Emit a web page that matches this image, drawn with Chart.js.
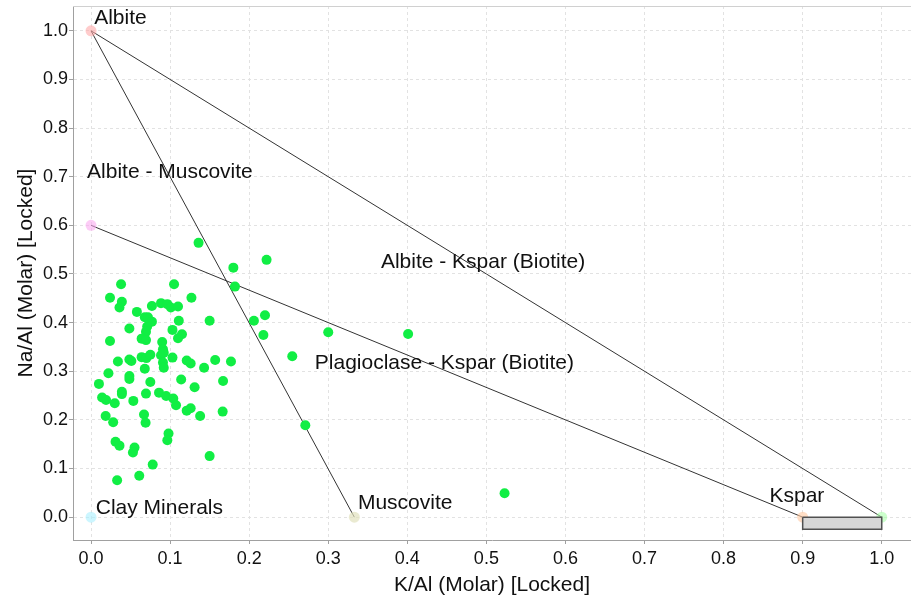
<!DOCTYPE html>
<html>
<head>
<meta charset="utf-8">
<script src="https://cdn.jsdelivr.net/npm/chart.js@4/dist/chart.umd.min.js"></script>
<style>
  html, body { margin: 0; padding: 0; background: #fff; overflow: hidden; }
  #wrap { width: 911px; height: 598px; position: relative; }
  canvas { display: block; }
</style>
</head>
<body>
<div id="wrap"><canvas id="chart"></canvas></div>
<script>
// sample analyses (K/Al, Na/Al)
const sampleX = [0.136, 0.180, 0.182, 0.206, 0.038, 0.105, 0.024, 0.127, 0.039, 0.036,
  0.058, 0.077, 0.0885, 0.0965, 0.101, 0.110, 0.068, 0.072, 0.077, 0.111,
  0.150, 0.0485, 0.071, 0.103, 0.115, 0.0695, 0.064, 0.0695, 0.110, 0.024,
  0.090, 0.091, 0.0885, 0.092, 0.064, 0.070, 0.075, 0.103, 0.034, 0.0485,
  0.051, 0.091, 0.092, 0.121, 0.126, 0.143, 0.157, 0.177, 0.068, 0.022,
  0.010, 0.0485, 0.0485, 0.075, 0.114, 0.167, 0.131, 0.039, 0.039, 0.0695,
  0.086, 0.095, 0.104, 0.1075, 0.014, 0.019, 0.030, 0.0535, 0.121, 0.126,
  0.138, 0.1665, 0.0185, 0.067, 0.069, 0.028, 0.098, 0.0965, 0.031, 0.036,
  0.055, 0.053, 0.150, 0.078, 0.061, 0.033, 0.222, 0.220, 0.218, 0.300,
  0.401, 0.2545, 0.271, 0.523];
const sampleY = [0.564, 0.513, 0.474, 0.404, 0.479, 0.479, 0.451, 0.451, 0.443, 0.431,
  0.422, 0.434, 0.440, 0.438, 0.431, 0.433, 0.411, 0.411, 0.402, 0.404,
  0.404, 0.388, 0.392, 0.385, 0.376, 0.381, 0.367, 0.364, 0.368, 0.362,
  0.360, 0.345, 0.333, 0.338, 0.329, 0.327, 0.334, 0.328, 0.320, 0.324,
  0.321, 0.318, 0.307, 0.322, 0.316, 0.307, 0.323, 0.320, 0.305, 0.296,
  0.274, 0.290, 0.284, 0.278, 0.283, 0.280, 0.267, 0.258, 0.253, 0.254,
  0.256, 0.249, 0.244, 0.230, 0.246, 0.241, 0.234, 0.239, 0.219, 0.224,
  0.208, 0.217, 0.208, 0.211, 0.194, 0.195, 0.172, 0.158, 0.155, 0.147,
  0.143, 0.133, 0.1255, 0.108, 0.085, 0.076, 0.529, 0.415, 0.3745, 0.380,
  0.3765, 0.331, 0.189, 0.049];

// end members
const memberNames = ['Albite', 'Albite - Muscovite', 'Clay Minerals', 'Muscovite', 'Kspar', 'Kspar end'];
const memberX = [0, 0, 0, 0.333, 0.9, 1.0];
const memberY = [1.0, 0.6, 0, 0, 0, 0];
const memberColors = ['rgba(255,170,170,0.6)', 'rgba(250,170,240,0.6)', 'rgba(170,240,255,0.6)',
  'rgba(225,225,190,0.7)', 'rgba(255,200,160,0.6)', 'rgba(170,255,170,0.6)'];

// mixing lines [from, to] as member indices
const mixLines = [[0, 3], [0, 5], [1, 4]];

// box under Kspar
const boxX = [0.9, 1.0, 1.0, 0.9, 0.9];
const boxY = [0, 0, -0.025, -0.025, 0];

// text annotations
const noteTexts = ['Albite', 'Albite - Muscovite', 'Albite - Kspar (Biotite)', 'Plagioclase - Kspar (Biotite)',
  'Clay Minerals', 'Muscovite', 'Kspar'];
const noteX = [0.004, -0.005, 0.3666, 0.283, 0.006, 0.3375, 0.858];
const noteY = [1.025, 0.71, 0.525, 0.317, 0.0185, 0.029, 0.043];

const tickVals = [0, 0.1, 0.2, 0.3, 0.4, 0.5, 0.6, 0.7, 0.8, 0.9, 1.0];

const FONT = "'Liberation Sans', Arial, sans-serif";
const GRID = '#e2e2e2';
const AXIS = '#a0a0a0';

const pts = (xs, ys) => xs.map((x, i) => ({ x, y: ys[i] }));

const datasets = [];

datasets.push({
  data: pts(boxX, boxY),
  showLine: true,
  fill: 'shape',
  backgroundColor: '#d6d6d6',
  borderColor: '#505050',
  borderWidth: 1.5,
  pointRadius: 0,
});

datasets.push({
  data: pts(memberX, memberY),
  pointRadius: 5.5,
  pointBackgroundColor: memberColors,
  pointBorderWidth: 0,
});

datasets.push({
  data: pts(sampleX, sampleY),
  pointRadius: 5,
  pointBackgroundColor: '#11ee44',
  pointBorderWidth: 0,
});

mixLines.forEach(([a, b]) => {
  datasets.push({
    data: [{ x: memberX[a], y: memberY[a] }, { x: memberX[b], y: memberY[b] }],
    showLine: true,
    borderColor: '#333',
    borderWidth: 1,
    pointRadius: 0,
  });
});

const notes = {
  id: 'notes',
  afterDatasetsDraw(chart) {
    const { ctx, scales: { x, y }, chartArea } = chart;
    ctx.save();
    // top frame
    ctx.strokeStyle = '#d0d0d0';
    ctx.lineWidth = 1;
    ctx.beginPath();
    ctx.moveTo(chartArea.left, chartArea.top + 0.5);
    ctx.lineTo(chartArea.right, chartArea.top + 0.5);
    ctx.stroke();
    ctx.fillStyle = '#111';
    ctx.font = `21px ${FONT}`;
    ctx.textBaseline = 'middle';
    ctx.textAlign = 'left';
    noteTexts.forEach((t, i) => {
      ctx.fillText(t, x.getPixelForValue(noteX[i]), y.getPixelForValue(noteY[i]));
    });
    ctx.restore();
  }
};

new Chart(document.getElementById('chart'), {
  type: 'scatter',
  data: { datasets },
  options: {
    responsive: true,
    maintainAspectRatio: false,
    animation: false,
    layout: { autoPadding: false, padding: { top: 6, right: 0, left: 0, bottom: 0 } },
    plugins: { legend: { display: false }, tooltip: { enabled: false } },
    scales: {
      x: {
        min: -0.0228,
        max: 1.037,
        afterBuildTicks: s => { s.ticks = tickVals.map(v => ({ value: v })); },
        afterFit: s => { s.height = 58; s.paddingLeft = 0; s.paddingRight = 0; },
        grid: { color: GRID, tickColor: AXIS, tickLength: 4, tickBorderDash: [] },
        border: { color: AXIS, width: 1, dash: [3, 3] },
        ticks: { font: { family: FONT, size: 18 }, color: '#111', padding: 4, maxRotation: 0,
          callback: v => v.toFixed(1) },
        title: { display: true, text: 'K/Al (Molar) [Locked]', font: { family: FONT, size: 21 },
          color: '#111', padding: { top: 0, bottom: 0 } }
      },
      y: {
        min: -0.047,
        max: 1.051,
        afterBuildTicks: s => { s.ticks = tickVals.map(v => ({ value: v })); },
        afterFit: s => { s.width = 73; s.paddingTop = 0; s.paddingBottom = 0; },
        grid: { color: GRID, tickColor: AXIS, tickLength: 4, tickBorderDash: [] },
        border: { color: AXIS, width: 1, dash: [3, 3] },
        ticks: { font: { family: FONT, size: 18 }, color: '#111', padding: 1,
          callback: v => v.toFixed(1) },
        title: { display: true, text: 'Na/Al (Molar) [Locked]', font: { family: FONT, size: 21 },
          color: '#111', padding: { top: 14, bottom: 0 } }
      }
    }
  },
  plugins: [notes]
});
</script>
</body>
</html>
